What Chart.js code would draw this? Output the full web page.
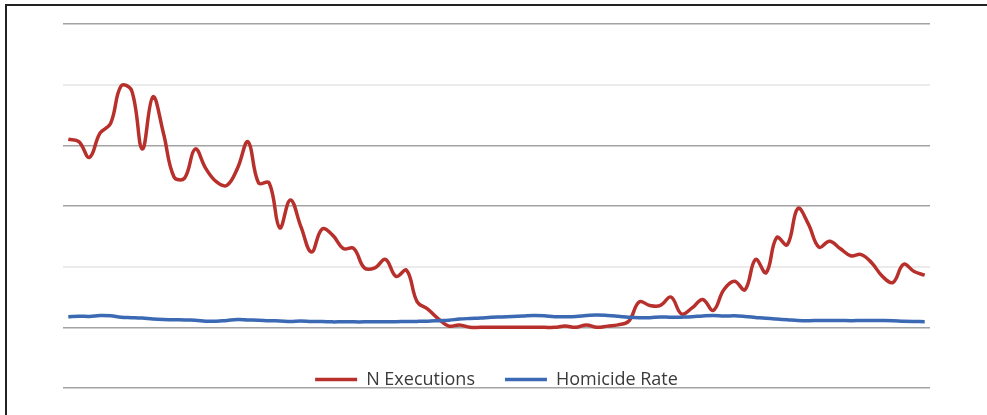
<!DOCTYPE html>
<html>
<head>
<meta charset="utf-8">
<script src="https://cdn.jsdelivr.net/npm/chart.js@4.4.1/dist/chart.umd.min.js"></script>
<style>
    html, body { margin: 0; padding: 0; background: #fff; }
    #wrap { position: relative; width: 987px; height: 415px; overflow: hidden; }
    #frame {
        position: absolute; left: 5px; top: 4px; right: -10px; bottom: -10px;
        border-top: 2px solid #222; border-left: 2px solid #222;
    }
    #chart { position: absolute; left: 0; top: 0; }
</style>
</head>
<body>
<div id="wrap">
    <div id="frame"></div>
    <canvas id="chart" width="987" height="415"></canvas>
</div>
<script>
const years = [
    1930, 1931, 1932, 1933, 1934, 1935, 1936, 1937, 1938, 1939,
    1940, 1941, 1942, 1943, 1944, 1945, 1946, 1947, 1948, 1949,
    1950, 1951, 1952, 1953, 1954, 1955, 1956, 1957, 1958, 1959,
    1960, 1961, 1962, 1963, 1964, 1965, 1966, 1967, 1968, 1969,
    1970, 1971, 1972, 1973, 1974, 1975, 1976, 1977, 1978, 1979,
    1980, 1981, 1982, 1983, 1984, 1985, 1986, 1987, 1988, 1989,
    1990, 1991, 1992, 1993, 1994, 1995, 1996, 1997, 1998, 1999,
    2000, 2001, 2002, 2003, 2004, 2005, 2006, 2007, 2008, 2009,
    2010, 2011,
];

const executions = [
    155, 153, 140, 160, 168, 199, 195, 147, 190, 160,
    124, 123, 147, 131, 120, 117, 131, 153, 119, 119,
    82, 105, 83, 62, 81, 76, 65, 65, 49, 49,
    56, 42, 47, 21, 15, 7, 1, 2, 0, 0,
    0, 0, 0, 0, 0, 0, 0, 1, 0, 2,
    0, 1, 2, 5, 21, 18, 18, 25, 11, 16,
    23, 14, 31, 38, 31, 56, 45, 74, 68, 98,
    85, 66, 71, 65, 59, 60, 53, 42, 37, 52,
    46, 43,
];

const homicideRate = [
    8.8, 9.2, 9.0, 9.7, 9.5, 8.3, 8.0, 7.6, 6.8, 6.4,
    6.3, 6.0, 5.9, 5.1, 5.0, 5.7, 6.4, 6.1, 5.9, 5.4,
    5.3, 4.9, 5.2, 4.8, 4.8, 4.5, 4.6, 4.5, 4.5, 4.6,
    4.7, 4.7, 4.8, 4.9, 5.1, 5.5, 5.9, 6.8, 7.3, 7.7,
    8.3, 8.6, 9.0, 9.4, 9.8, 9.6, 8.8, 8.8, 9.0, 9.7,
    10.2, 9.8, 9.1, 8.3, 7.9, 8.0, 8.6, 8.3, 8.4, 8.7,
    9.4, 9.8, 9.3, 9.5, 9.0, 8.2, 7.4, 6.8, 6.3, 5.7,
    5.5, 5.6, 5.6, 5.7, 5.5, 5.6, 5.7, 5.6, 5.4, 5.0,
    4.8, 4.7,
];

const yTicks = [-50, 0, 50, 100, 150, 200, 250];
const lightGridValues = [50, 200];

const seriesLabels = ["N Executions", "Homicide Rate"];

const LEGEND_FONT_SIZE = 18;
const LEGEND_PADDING = 30;
const LEGEND_CENTER_Y = 379.5;

// the legend sits inside the plot, just above the lowest gridline
const legendInsidePlot = {
    id: "legendInsidePlot",
    afterLayout(chart) {
        const legend = chart.legend;

        if (!legend) {
            return;
        }

        const shift = legend.top + LEGEND_PADDING + LEGEND_FONT_SIZE / 2 - LEGEND_CENTER_Y;
        legend.top -= shift;
        legend.bottom -= shift;
    },
};

new Chart(document.getElementById("chart"), {
    type: "line",
    data: {
        labels: years,
        datasets: [
            {
                label: seriesLabels[0],
                data: executions,
                borderColor: "#b8302c",
                backgroundColor: "#b8302c",
                borderWidth: 3.5,
                tension: 0.4,
                pointRadius: 0,
                order: 1,
            },
            {
                label: seriesLabels[1],
                data: homicideRate,
                borderColor: "#3b69b3",
                backgroundColor: "#3b69b3",
                borderWidth: 3.5,
                tension: 0.4,
                pointRadius: 0,
                order: 0,
            },
        ],
    },
    options: {
        responsive: false,
        animation: false,
        layout: {
            padding: { left: 63, right: 57, top: 24, bottom: -31 },
        },
        plugins: {
            tooltip: { enabled: false },
            legend: {
                position: "bottom",
                labels: {
                    usePointStyle: true,
                    pointStyle: "line",
                    pointStyleWidth: 42,
                    padding: LEGEND_PADDING,
                    color: "#3a3a3a",
                    font: { family: "'Open Sans'", size: LEGEND_FONT_SIZE },
                    sort: (a, b) => a.datasetIndex - b.datasetIndex,
                },
            },
        },
        scales: {
            x: {
                display: false,
                offset: true,
            },
            y: {
                min: yTicks[0],
                max: yTicks[yTicks.length - 1],
                afterBuildTicks(scale) {
                    scale.ticks = yTicks.map((value) => ({ value }));
                },
                ticks: { display: false },
                border: { display: false },
                grid: {
                    drawTicks: false,
                    color(ctx) {
                        return lightGridValues.includes(ctx.tick?.value) ? "#ebebeb" : "#a3a3a3";
                    },
                    lineWidth(ctx) {
                        return lightGridValues.includes(ctx.tick?.value) ? 2 : 1.5;
                    },
                },
            },
        },
    },
    plugins: [legendInsidePlot],
});
</script>
</body>
</html>
